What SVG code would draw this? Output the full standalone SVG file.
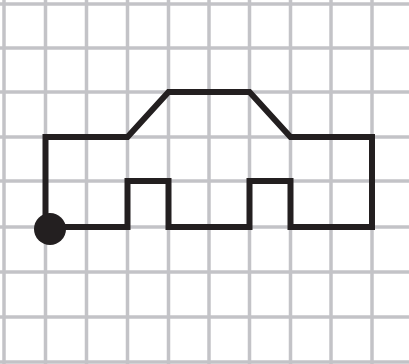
<svg xmlns="http://www.w3.org/2000/svg" width="409" height="364" viewBox="0 0 409 364">
<style>
.grid line{stroke:#c3c3c7;stroke-width:3.5}
.car{fill:none;stroke:#231f20;stroke-width:6;stroke-linejoin:miter}
</style>
<rect width="409" height="364" fill="#fff"/>
<g class="grid" id="grid">
<line x1="4" y1="0" x2="4" y2="364"/>
<line x1="45.5" y1="0" x2="45.5" y2="364"/>
<line x1="86.5" y1="0" x2="86.5" y2="364"/>
<line x1="127.5" y1="0" x2="127.5" y2="364"/>
<line x1="168.5" y1="0" x2="168.5" y2="364"/>
<line x1="209" y1="0" x2="209" y2="364"/>
<line x1="249.5" y1="0" x2="249.5" y2="364"/>
<line x1="290.5" y1="0" x2="290.5" y2="364"/>
<line x1="331" y1="0" x2="331" y2="364"/>
<line x1="372" y1="0" x2="372" y2="364"/>
<line x1="0" y1="4" x2="409" y2="4"/>
<line x1="0" y1="48" x2="409" y2="48"/>
<line x1="0" y1="92" x2="409" y2="92"/>
<line x1="0" y1="137" x2="409" y2="137"/>
<line x1="0" y1="181" x2="409" y2="181"/>
<line x1="0" y1="227" x2="409" y2="227"/>
<line x1="0" y1="272" x2="409" y2="272"/>
<line x1="0" y1="317" x2="409" y2="317"/>
<line x1="0" y1="362" x2="409" y2="362"/>
</g>
<g id="car">
<path class="car" d="M45.5,227 V137 H127.5 L168.5,92 H249.5 L290.5,137 H372 V227 H290.5 V181 H249.5 V227 H168.5 V181 H127.5 V227 Z"/>
<circle cx="50" cy="229" r="16" fill="#231f20"/>
</g>
</svg>
